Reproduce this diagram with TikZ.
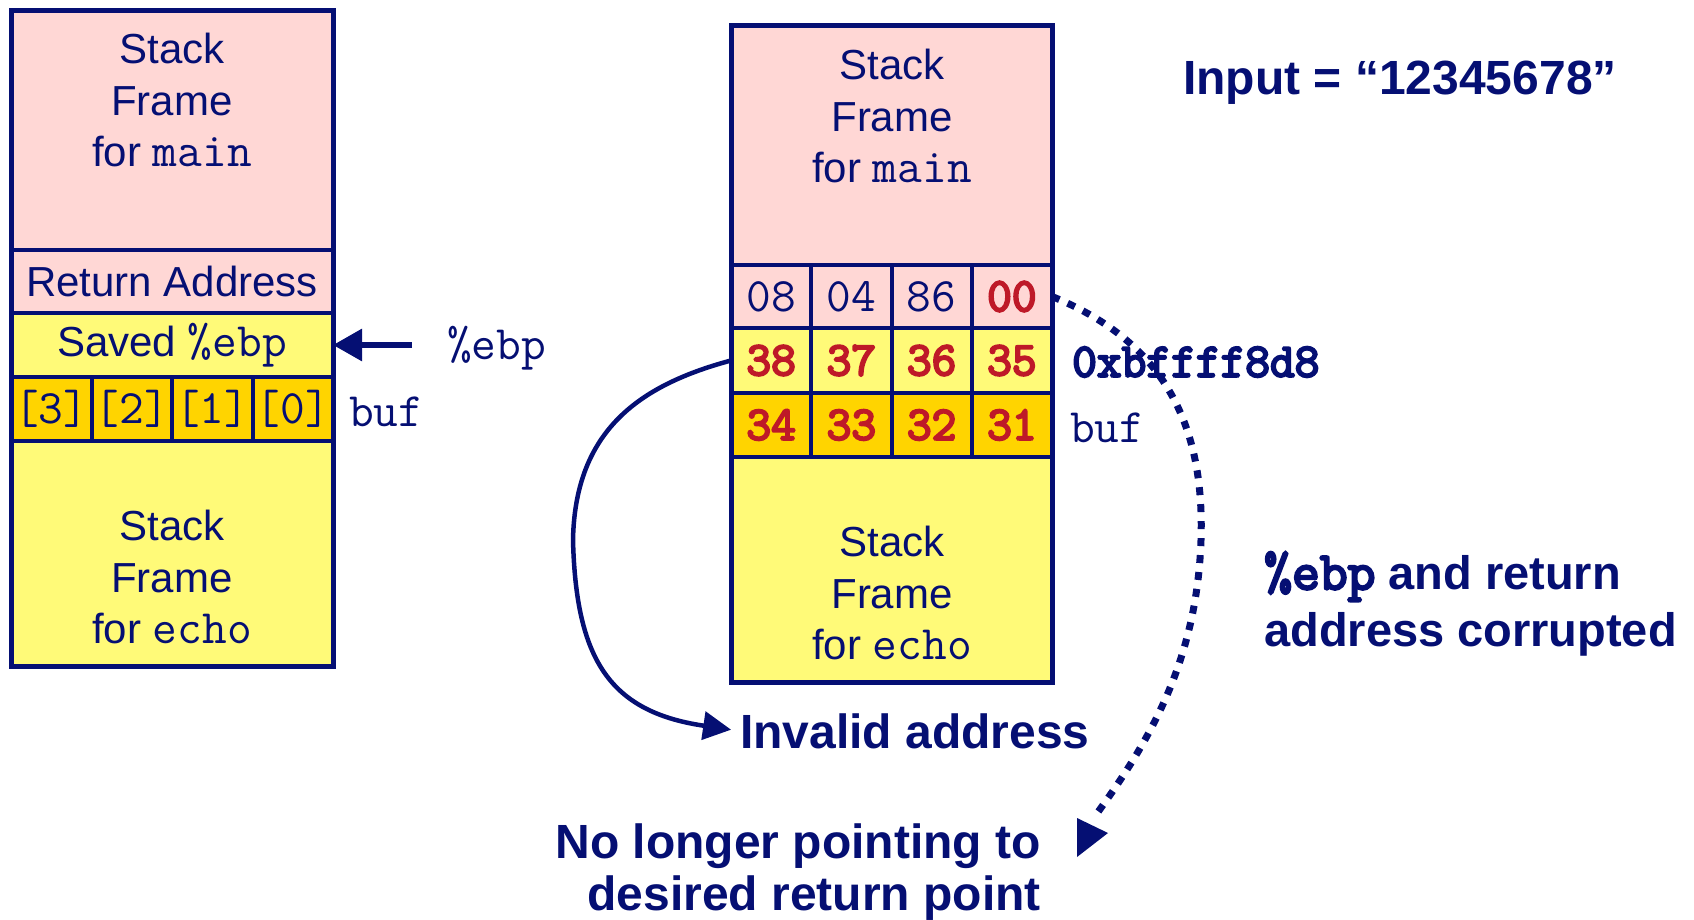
\documentclass[tikz,border=0pt]{standalone}
\usepackage{fontspec}
\setmainfont{Liberation Sans}
\newfontfamily\boldmono[FakeBold=4.5]{Latin Modern Mono}
\usetikzlibrary{arrows.meta}
\definecolor{navy}{RGB}{5,15,115}
\definecolor{fpink}{RGB}{255,215,213}
\definecolor{fyellow}{RGB}{255,250,120}
\definecolor{fgold}{RGB}{255,212,0}
\definecolor{dred}{RGB}{190,25,40}
\newcommand{\mtt}[1]{{\ttfamily\fontsize{48pt}{51.5pt}\selectfont #1}}
\begin{document}
\begin{tikzpicture}[x=1pt,y=-1pt,
  cellbox/.style={draw=navy, line width=4pt, inner sep=0pt, outer sep=0pt, anchor=north west,
    text=navy, font=\fontsize{42pt}{51.5pt}\selectfont},
  hexcell/.style={cellbox, font=\ttfamily\fontsize{48pt}{51.5pt}\selectfont},
  redcell/.style={cellbox, text=dred, font=\boldmono\fontsize{48pt}{51.5pt}\selectfont},
  boxtxt/.style={text=navy, align=center, inner sep=0pt, font=\fontsize{42pt}{51.5pt}\selectfont},
  monolbl/.style={text=navy, inner sep=0pt, anchor=west, font=\ttfamily\fontsize{48pt}{50pt}\selectfont},
  bigtxt/.style={text=navy, inner sep=0pt, font=\bfseries\fontsize{48pt}{52pt}\selectfont},
  outer/.style={draw=navy, line width=5pt},
  conn/.style={draw=navy, line width=4.5pt},
  dotconn/.style={draw=navy, line width=7pt, dash pattern=on 8pt off 9pt}
]
\useasboundingbox (0,0) rectangle (1694,919);

% ---------- left stack ----------
\node[cellbox, fill=fpink, minimum width=322pt, minimum height=240pt] (lmain) at (11,10) {};
\node[cellbox, fill=fpink, minimum width=322pt, minimum height=63pt] (lret) at (11,250) {Return Address};
\node[cellbox, fill=fyellow, minimum width=322pt, minimum height=64pt] (lsaved) at (11,313) {Saved \mtt{\%ebp}};
\node[hexcell, fill=fgold, minimum width=80.5pt, minimum height=64pt] (lb3) at (11,377) {[3]};
\node[hexcell, fill=fgold, minimum width=80.5pt, minimum height=64pt] (lb2) at (91.5,377) {[2]};
\node[hexcell, fill=fgold, minimum width=80.5pt, minimum height=64pt] (lb1) at (172,377) {[1]};
\node[hexcell, fill=fgold, minimum width=80.5pt, minimum height=64pt] (lb0) at (252.5,377) {[0]};
\node[cellbox, fill=fyellow, minimum width=322pt, minimum height=225pt] (lecho) at (11,441) {};
\draw[outer] (lmain.north west) rectangle (lecho.south east);
\node[boxtxt] (lmaint) at (172,100) {Stack\\Frame\\for \mtt{main}};
\node[boxtxt] (lechot) at (172,577) {Stack\\Frame\\for \mtt{echo}};

\coordinate (ebptail) at (412,345);
\draw[conn, line width=6pt, -{Triangle[length=29pt,width=31pt]}] (ebptail) -- (lsaved.east);
\node[monolbl] (ebplbl) at (447,348) {\%ebp};
\node[monolbl] (lbuf) at (349,412) {buf};

% ---------- right stack ----------
\node[cellbox, fill=fpink, minimum width=321pt, minimum height=240pt] (rmain) at (731,25) {};
\node[hexcell, fill=fpink, minimum width=80.25pt, minimum height=63pt] (r08) at (731,265) {08};
\node[hexcell, fill=fpink, minimum width=80.25pt, minimum height=63pt] (r04) at (811.25,265) {04};
\node[hexcell, fill=fpink, minimum width=80.25pt, minimum height=63pt] (r86) at (891.5,265) {86};
\node[redcell, fill=fpink, minimum width=80.25pt, minimum height=63pt] (r00) at (971.75,265) {00};
\node[redcell, fill=fyellow, minimum width=80.25pt, minimum height=65pt] (r38) at (731,328) {38};
\node[redcell, fill=fyellow, minimum width=80.25pt, minimum height=65pt] (r37) at (811.25,328) {37};
\node[redcell, fill=fyellow, minimum width=80.25pt, minimum height=65pt] (r36) at (891.5,328) {36};
\node[redcell, fill=fyellow, minimum width=80.25pt, minimum height=65pt] (r35) at (971.75,328) {35};
\node[redcell, fill=fgold, minimum width=80.25pt, minimum height=64pt] (r34) at (731,393) {34};
\node[redcell, fill=fgold, minimum width=80.25pt, minimum height=64pt] (r33) at (811.25,393) {33};
\node[redcell, fill=fgold, minimum width=80.25pt, minimum height=64pt] (r32) at (891.5,393) {32};
\node[redcell, fill=fgold, minimum width=80.25pt, minimum height=64pt] (r31) at (971.75,393) {31};
\node[cellbox, fill=fyellow, minimum width=321pt, minimum height=225pt] (recho) at (731,457) {};
\draw[outer] (rmain.north west) rectangle (recho.south east);
\node[boxtxt] (rmaint) at (892,116) {Stack\\Frame\\for \mtt{main}};
\node[boxtxt] (rechot) at (892,593) {Stack\\Frame\\for \mtt{echo}};

\node[monolbl, font=\boldmono\fontsize{48pt}{50pt}\selectfont] (addr) at (1072,362) {0xbffff8d8};
\node[monolbl] (rbuf) at (1070,428) {buf};

% ---------- labels ----------
\node[bigtxt, anchor=west] (input) at (1183,83) {Input = “12345678”};
\node[bigtxt, anchor=west, align=left, font=\bfseries\fontsize{47pt}{57pt}\selectfont] (corrupt) at (1264,604)
  {{\boldmono\fontsize{54pt}{57pt}\selectfont\%ebp} and return\\address corrupted};
\node[bigtxt, anchor=west] (inv) at (740,731) {Invalid address};
\node[bigtxt, anchor=east, align=right] (nolonger) at (1041,872) {No longer pointing to\\desired return point};

% ---------- connectors ----------
\draw[conn, -{Triangle[length=28pt,width=28pt]}, shorten >=9pt]
  (r38.west) .. controls (640,385) and (575,430) .. (573,540)
  .. controls (576,660) and (610,712) .. (inv.west);

\coordinate (dotend) at (1098,812);
\draw[dotconn] (r00.east) .. controls (1160,340) and (1205,420) .. (1201,540)
  .. controls (1197,660) and (1150,740) .. (dotend);
\fill[navy] (1077,818) -- (1108,833) -- (1077,857) -- cycle;
\end{tikzpicture}
\end{document}
